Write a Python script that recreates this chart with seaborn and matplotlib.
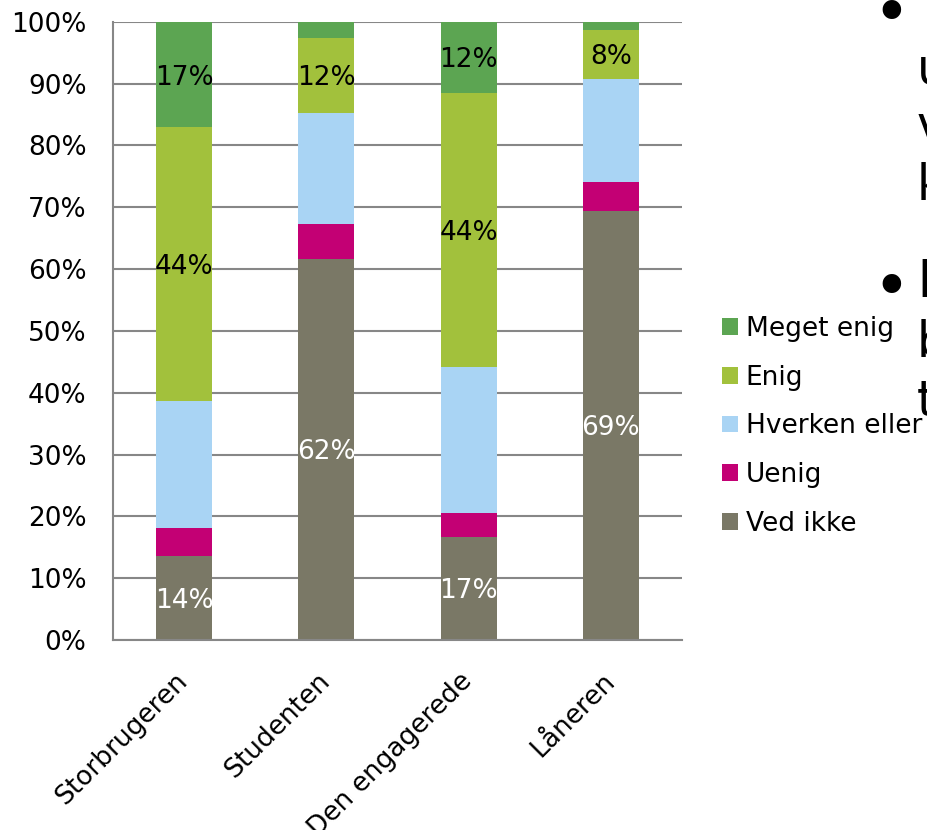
import numpy as np
import matplotlib
matplotlib.use('Agg')
import matplotlib.pyplot as plt
import seaborn as sns
from matplotlib.patches import Patch

# categories and answer shares (percent), bottom to top
categories = ['Storbrugeren', 'Studenten', 'Den engagerede', 'Låneren']
series = ['Ved ikke', 'Uenig', 'Hverken eller', 'Enig', 'Meget enig']
ved_ikke = [13.6, 61.7, 16.7, 69.4]
uenig = [4.5, 5.6, 3.8, 4.7]
hverken = [20.6, 18.0, 23.7, 16.6]
enig = [44.2, 12.1, 44.3, 8.0]
meget_enig = [17.1, 2.6, 11.5, 1.3]
colors = ['#7a7866', '#c30074', '#a9d4f4', '#a2c13c', '#5ca552']
text_colors = ['white', 'black', 'black', 'black', 'black']
# which segments carry a data label (rows follow `series`)
show_label = [
    [True, True, True, True],
    [False, False, False, False],
    [False, False, False, False],
    [True, True, True, True],
    [True, False, True, False],
]

sns.set_style('white')
plt.rcParams['font.family'] = ['DejaVu Sans']
plt.rcParams['text.color'] = 'black'

values = np.array([ved_ikke, uenig, hverken, enig, meget_enig])
tops = values.cumsum(axis=0)
bottoms = tops - values

FS = 19

fig = plt.figure(figsize=(9.28, 8.30), dpi=100)
ax = fig.add_axes([113 / 928, 1 - 640 / 830, (682 - 113) / 928, (640 - 21.7) / 830])

# stacked bars: draw cumulative totals from the top series down
for k in reversed(range(len(series))):
    sns.barplot(x=categories, y=tops[k], color=colors[k], saturation=1,
                width=0.395, linewidth=0, errorbar=None, ax=ax, zorder=2)

for k in range(len(series)):
    for i in range(len(categories)):
        if show_label[k][i]:
            ax.text(i, bottoms[k][i] + values[k][i] / 2, f"{round(values[k][i])}%",
                    ha='center', va='center_baseline', fontsize=FS,
                    color=text_colors[k], zorder=3)

grid_c = '#878787'
ax.set_xlim(-0.5, 3.5)
ax.set_ylim(0, 100)
ax.set_yticks(range(0, 101, 10))
ax.set_yticklabels([f"{v}%" for v in range(0, 101, 10)], fontsize=FS)
ax.yaxis.grid(True, color=grid_c, lw=1.5)
ax.set_axisbelow(True)
for s in ['top', 'right']:
    ax.spines[s].set_visible(False)
for s in ['left', 'bottom']:
    ax.spines[s].set_color(grid_c)
    ax.spines[s].set_linewidth(1.5)

ax.tick_params(axis='y', direction='out', length=6, width=1.5, color=grid_c,
               labelcolor='black', pad=13)
ax.set_xticks(np.arange(-0.5, 4, 1), minor=True)
ax.tick_params(axis='x', which='minor', direction='out', length=6, width=1.5, color=grid_c)
ax.tick_params(axis='x', which='major', length=0, pad=27, labelcolor='black')
ax.set_xticklabels(categories, fontsize=FS, rotation=45, ha='right', va='center',
                   rotation_mode='anchor')
ax.set_xlabel('')

handles = [Patch(facecolor=colors[k], edgecolor='none', label=series[k])
           for k in reversed(range(len(series)))]
fig.legend(handles=handles, loc='upper left', bbox_to_anchor=(722 / 928, 1 - 316 / 830),
           frameon=False, fontsize=FS, handlelength=0.6, handleheight=0.6,
           handletextpad=0.3, labelspacing=0.86, borderpad=0, borderaxespad=0,
           labelcolor='black')

# clipped slide text at the right edge
bullets = [(872, 34), (872, 308)]
for x, y in bullets:
    fig.text(x / 928, 1 - y / 830, '•', fontsize=46, va='baseline', ha='left')
side_letters = [('u', 917, 83), ('v', 917, 141), ('k', 917, 200),
                ('l', 917, 297), ('b', 917, 356), ('t', 917, 416)]
for s, x, y in side_letters:
    fig.text(x / 928, 1 - y / 830, s, fontsize=35, va='baseline', ha='left')

fig.savefig('out.png', dpi=100)
